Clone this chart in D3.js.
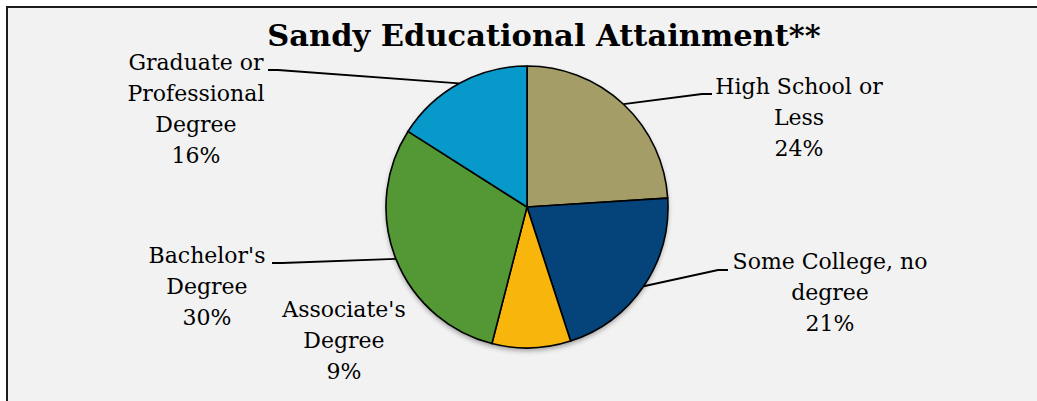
<!DOCTYPE html>
<html>
<head>
<meta charset="utf-8">
<script src="https://cdn.jsdelivr.net/npm/d3@7"></script>
<style>
  body { margin: 0; background: #fff; }
  svg { display: block; }
</style>
</head>
<body>
<div id="chart-area"></div>
<script>
// Data
// ****
const categories = ["High School or Less", "Some College, no degree", "Associate's Degree", "Bachelor's Degree", "Graduate or Professional Degree"]
const values = [24, 21, 9, 30, 16]
const colors = ["#a59d67", "#05437b", "#f8b50b", "#539834", "#0799ca"]
// label lines as drawn in the chart
const labelLines = [
	["High School or", "Less", "24%"],
	["Some College, no", "degree", "21%"],
	["Associate's", "Degree", "9%"],
	["Bachelor's", "Degree", "30%"],
	["Graduate or", "Professional", "Degree", "16%"]
]

// Config
// ******
const width = 1037, height = 401
const cx = 527, cy = 207, radius = 141
const lineH = 31

// label anchor (center x, first baseline y) and leader end (null = no leader)
const labelPos = [
	{x: 799, y: 94, leader: [712, 94]},
	{x: 830, y: 269, leader: [728, 270]},
	{x: 344, y: 317, leader: null},
	{x: 207, y: 263, leader: [272, 263]},
	{x: 196, y: 70, leader: [268, 70]}
]

const svg = d3.select("#chart-area")
	.append("svg")
		.attr("width", width)
		.attr("height", height)

const defs = svg.append("defs")
const shadow = defs.append("filter").attr("id", "shadow")
	.attr("x", "-20%").attr("y", "-20%").attr("width", "140%").attr("height", "140%")
shadow.append("feDropShadow")
	.attr("dx", 0).attr("dy", 3).attr("stdDeviation", 2.5)
	.attr("flood-color", "#000").attr("flood-opacity", 0.35)

// Frame
svg.append("rect")
	.attr("x", 7).attr("y", 7)
	.attr("width", width + 10).attr("height", height + 10)
	.attr("fill", "#f2f2f2")
	.attr("stroke", "#1c1c1c")
	.attr("stroke-width", 2)

// Title
svg.append("text")
	.attr("x", 544)
	.attr("y", 46)
	.attr("text-anchor", "middle")
	.attr("font-family", "'DejaVu Serif', serif")
	.attr("font-weight", "bold")
	.attr("font-size", "30.5px")
	.attr("fill", "#000")
	.text("Sandy Educational Attainment**")

// Pie
const pie = d3.pie().sort(null).value(d => d)
const arcs = pie(values)
const arc = d3.arc().innerRadius(0).outerRadius(radius)

const g = svg.append("g").attr("transform", "translate(" + cx + "," + cy + ")")

g.append("circle")
	.attr("r", radius)
	.attr("fill", "#f2f2f2")
	.attr("filter", "url(#shadow)")

g.selectAll("path.slice")
	.data(arcs)
	.enter().append("path")
		.attr("class", "slice")
		.attr("d", arc)
		.attr("fill", (d, i) => colors[i])
		.attr("stroke", "#000")
		.attr("stroke-width", 1.6)
		.attr("stroke-linejoin", "round")

// Leader lines
arcs.forEach((d, i) => {
	const p = labelPos[i]
	if (!p.leader) return
	const mid = (d.startAngle + d.endAngle) / 2
	const ex = cx + radius * Math.sin(mid)
	const ey = cy - radius * Math.cos(mid)
	const side = p.leader[0] > cx ? -1 : 1
	const pts = [[ex, ey], [p.leader[0] + side * 10, p.leader[1]], p.leader]
	svg.append("path")
		.attr("d", d3.line()(pts))
		.attr("fill", "none")
		.attr("stroke", "#000")
		.attr("stroke-width", 1.8)
})

// Labels
labelLines.forEach((lines, i) => {
	const p = labelPos[i]
	const t = svg.append("text")
		.attr("text-anchor", "middle")
		.attr("font-family", "'DejaVu Serif', serif")
		.attr("font-size", "22px")
		.attr("fill", "#000")
	lines.forEach((ln, j) => {
		t.append("tspan")
			.attr("x", p.x)
			.attr("y", p.y + j * lineH)
			.text(ln)
	})
})
</script>
</body>
</html>
